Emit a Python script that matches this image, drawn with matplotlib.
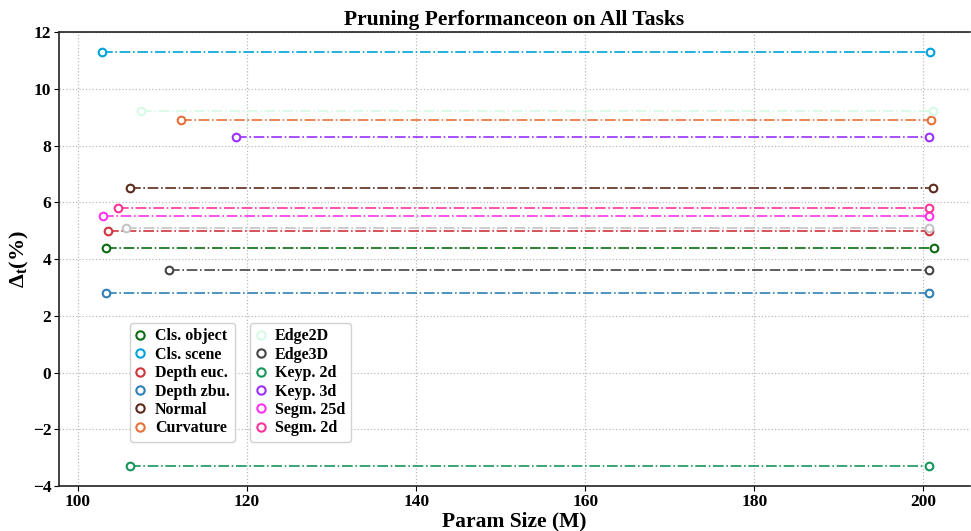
import matplotlib.pyplot as plt
from matplotlib.lines import Line2D

plt.rcParams['font.family'] = ['Liberation Serif', 'DejaVu Serif']
plt.rcParams['font.weight'] = 'bold'
plt.rcParams['mathtext.fontset'] = 'custom'
plt.rcParams['mathtext.rm'] = 'Liberation Serif'
plt.rcParams['mathtext.bf'] = 'Liberation Serif:bold'
plt.rcParams['mathtext.it'] = 'Liberation Serif:bold:italic'

# task names, delta values, param sizes after / before pruning
tasks = ['Cls. object', 'Cls. scene', 'Depth euc.', 'Depth zbu.', 'Normal', 'Curvature',
         'Edge2D', 'Edge3D', 'Keyp. 2d', 'Keyp. 3d', 'Segm. 25d', 'Segm. 2d', '_other']
delta = [4.4, 11.3, 5.0, 2.8, 6.5, 8.9, 9.2, 3.6, -3.3, 8.3, 5.5, 5.8, 5.1]
size_pruned = [103.3, 102.8, 103.5, 103.3, 106.1, 112.2, 107.5, 110.8, 106.1, 118.7, 103.0, 104.7, 105.7]
size_full = [201.3, 200.8, 200.7, 200.7, 201.1, 200.9, 201.1, 200.7, 200.7, 200.7, 200.7, 200.7, 200.7]
colors = ['#0b6b12', '#00a3d9', '#d0343c', '#2f80b5', '#5c2a1c', '#e8703a',
          '#d6fae6', '#444444', '#16965a', '#9b30ff', '#ff33ee', '#ff3399', '#c4c4c4']

fig = plt.figure(figsize=(9.71, 5.31), dpi=100)
ax = fig.add_axes([0.0608, 0.0847, 0.938, 0.855])

for name, d, x0, x1, c in zip(tasks, delta, size_pruned, size_full, colors):
    ax.plot([x0, x1], [d, d], linestyle='-.', color=c, linewidth=1.2, zorder=2)
    ax.plot([x0, x1], [d, d], linestyle='none', marker='o', markersize=5.5,
            markerfacecolor='white', markeredgecolor=c, markeredgewidth=1.5, zorder=3)

ax.set_xlim(97.75, 205.5)
ax.set_ylim(-4, 12)
ax.set_xticks([100, 120, 140, 160, 180, 200])
ax.set_yticks(range(-4, 13, 2))
ax.grid(True, linestyle=':', color='#bbbbbb', linewidth=0.9)
ax.set_axisbelow(True)
ax.tick_params(labelsize=12.5, pad=2)
for lab in ax.get_xticklabels() + ax.get_yticklabels():
    lab.set_fontweight('bold')
ax.spines['right'].set_visible(False)
for s in ['left', 'bottom', 'top']:
    ax.spines[s].set_color('#222222')
    ax.spines[s].set_linewidth(1.2)

ax.set_title('Pruning Performanceon on All Tasks', fontsize=15.5, fontweight='bold', pad=5)
ax.set_xlabel('Param Size (M)', fontsize=15.5, fontweight='bold', labelpad=1)
ax.set_ylabel(r'$\mathbf{\Delta_t}$(%)', fontsize=16, fontweight='bold', labelpad=1)

def handles(idx):
    return [Line2D([], [], linestyle='none', marker='o', markersize=6, markerfacecolor='none',
                   markeredgecolor=colors[i], markeredgewidth=1.5, label=tasks[i]) for i in idx]

leg_kw = dict(handlelength=0.6, handletextpad=0.6, labelspacing=0.15, borderpad=0.35,
              borderaxespad=0, framealpha=0.9, edgecolor='#cccccc',
              prop={'weight': 'bold', 'size': 11.5})
leg1 = ax.legend(handles=handles(range(6)), loc='lower left', bbox_to_anchor=(0.078, 0.097), **leg_kw)
ax.add_artist(leg1)
ax.legend(handles=handles(range(6, 12)), loc='lower left', bbox_to_anchor=(0.21, 0.097), **leg_kw)

fig.savefig('out.png', dpi=100)
